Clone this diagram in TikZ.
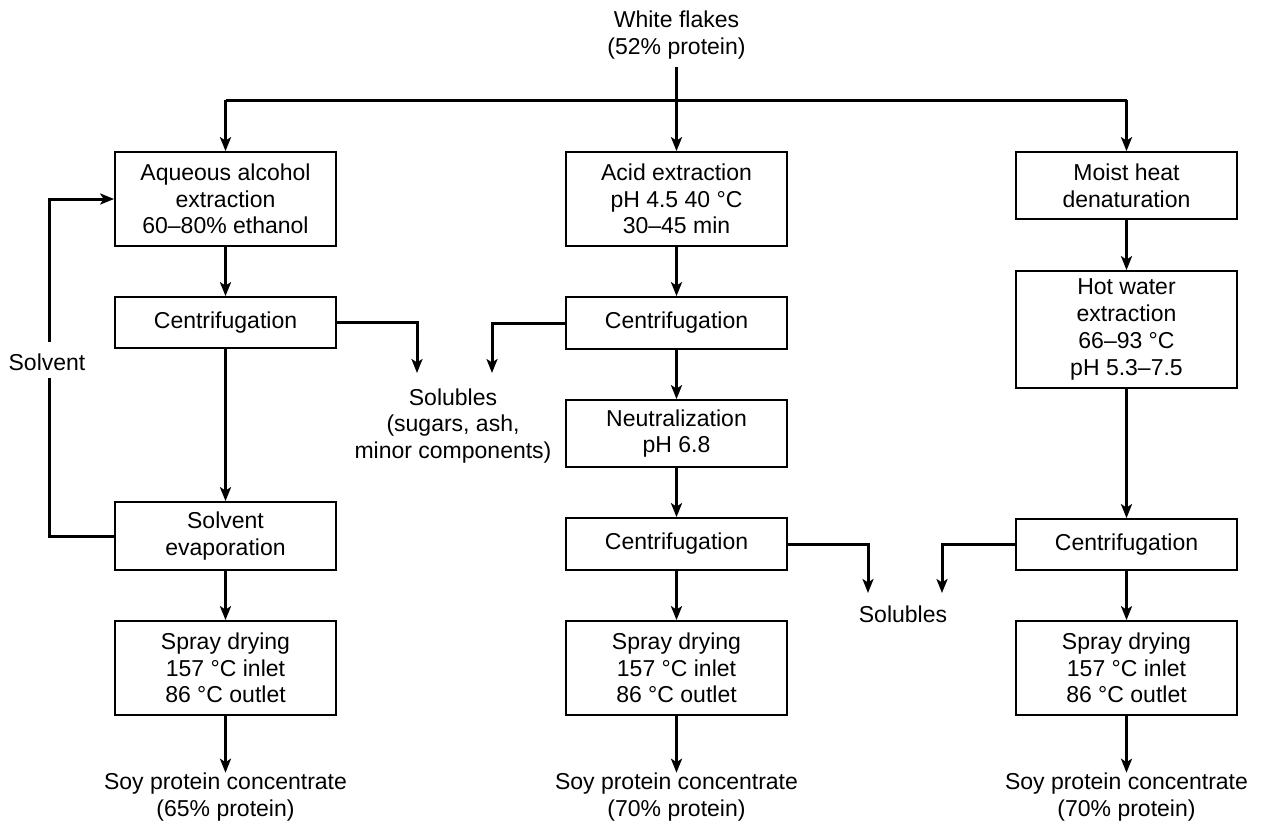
\documentclass[tikz,border=0pt]{standalone}
\usepackage{fontspec}
\setmainfont{Liberation Sans}
\usetikzlibrary{arrows.meta}
\begin{document}
\begin{tikzpicture}[x=1pt,y=-1pt,
  every node/.style={font=\fontsize{23}{26.7}\selectfont, align=center, inner sep=0pt},
  box/.style={draw, line width=1.7pt, minimum width=221pt},
  flow/.style={line width=3pt, -{Stealth[length=14pt,width=11pt,inset=3.5pt]}},
  plain/.style={line width=3pt}]
\useasboundingbox (0,0) rectangle (1264,822);
% top
\node (flakes) at (676.5,35) {White flakes\\(52\% protein)};
\coordinate (fstart) at (676.5,67);
\coordinate (tl) at (225.5,100);
\coordinate (tr) at (1126.5,100);
% left column
\node[box, minimum height=94pt] (L1) at (225.5,199) {Aqueous alcohol\\extraction\\60–80\% ethanol};
\node[box, minimum height=51pt] (L2) at (225.5,322.5) {Centrifugation};
\node[box, minimum height=68pt] (L3) at (225.5,536) {Solvent\\evaporation};
\node[box, minimum height=94pt] (L4) at (225.5,668) {Spray drying\\157 °C inlet\\86 °C outlet};
\node (Lout) at (225.5,797) {Soy protein concentrate\\(65\% protein)};
% centre column
\node[box, minimum height=94pt] (C1) at (676.5,199) {Acid extraction\\pH 4.5 40 °C\\30–45 min};
\node[box, minimum height=52pt] (C2) at (676.5,323) {Centrifugation};
\node[box, minimum height=67pt] (C3) at (676.5,433.5) {Neutralization\\pH 6.8};
\node[box, minimum height=52pt] (C4) at (676.5,544) {Centrifugation};
\node[box, minimum height=94pt] (C5) at (676.5,668) {Spray drying\\157 °C inlet\\86 °C outlet};
\node (Cout) at (676.5,797) {Soy protein concentrate\\(70\% protein)};
% right column
\node[box, minimum height=67pt] (R1) at (1126.5,185.5) {Moist heat\\denaturation};
\node[box, minimum height=117pt] (R2) at (1126.5,329.5) {Hot water\\extraction\\66–93 °C\\pH 5.3–7.5};
\node[box, minimum height=51pt] (R3) at (1126.5,544.5) {Centrifugation};
\node[box, minimum height=94pt] (R4) at (1126.5,668) {Spray drying\\157 °C inlet\\86 °C outlet};
\node (Rout) at (1126.5,797) {Soy protein concentrate\\(70\% protein)};
% solubles
\node (sol1) at (453,426) {Solubles\\(sugars, ash,\\minor components)};
\node (sol2) at (903,614) {Solubles};
\coordinate (s1a) at (417,373);
\coordinate (s1b) at (492,373);
\coordinate (s2a) at (868,593);
\coordinate (s2b) at (942,593);
% solvent recycle label
\node (solv) at (47,362) {Solvent};
\coordinate (solvlo) at (49,378);
\coordinate (solvhi) at (49,342);
% connectors: top distribution
\draw[plain] (tl) -- (tr);
\draw[flow] (fstart) -- (C1.north);
\draw[flow] (tl) -- (L1.north);
\draw[flow] (tr) -- (R1.north);
% left column
\draw[flow] (L1) -- (L2);
\draw[flow] (L2) -- (L3);
\draw[flow] (L3) -- (L4);
\draw[flow] (L4) -- (Lout);
\draw[flow] (L2.east) -| (s1a);
\draw[plain] (L3.west) -| (solvlo);
\draw[flow] (solvhi) |- (L1.west);
% centre column
\draw[flow] (C1) -- (C2);
\draw[flow] (C2) -- (C3);
\draw[flow] (C3) -- (C4);
\draw[flow] (C4) -- (C5);
\draw[flow] (C5) -- (Cout);
\draw[flow] (C2.west) -| (s1b);
\draw[flow] (C4.east) -| (s2a);
% right column
\draw[flow] (R1) -- (R2);
\draw[flow] (R2) -- (R3);
\draw[flow] (R3) -- (R4);
\draw[flow] (R4) -- (Rout);
\draw[flow] (R3.west) -| (s2b);
\end{tikzpicture}
\end{document}
